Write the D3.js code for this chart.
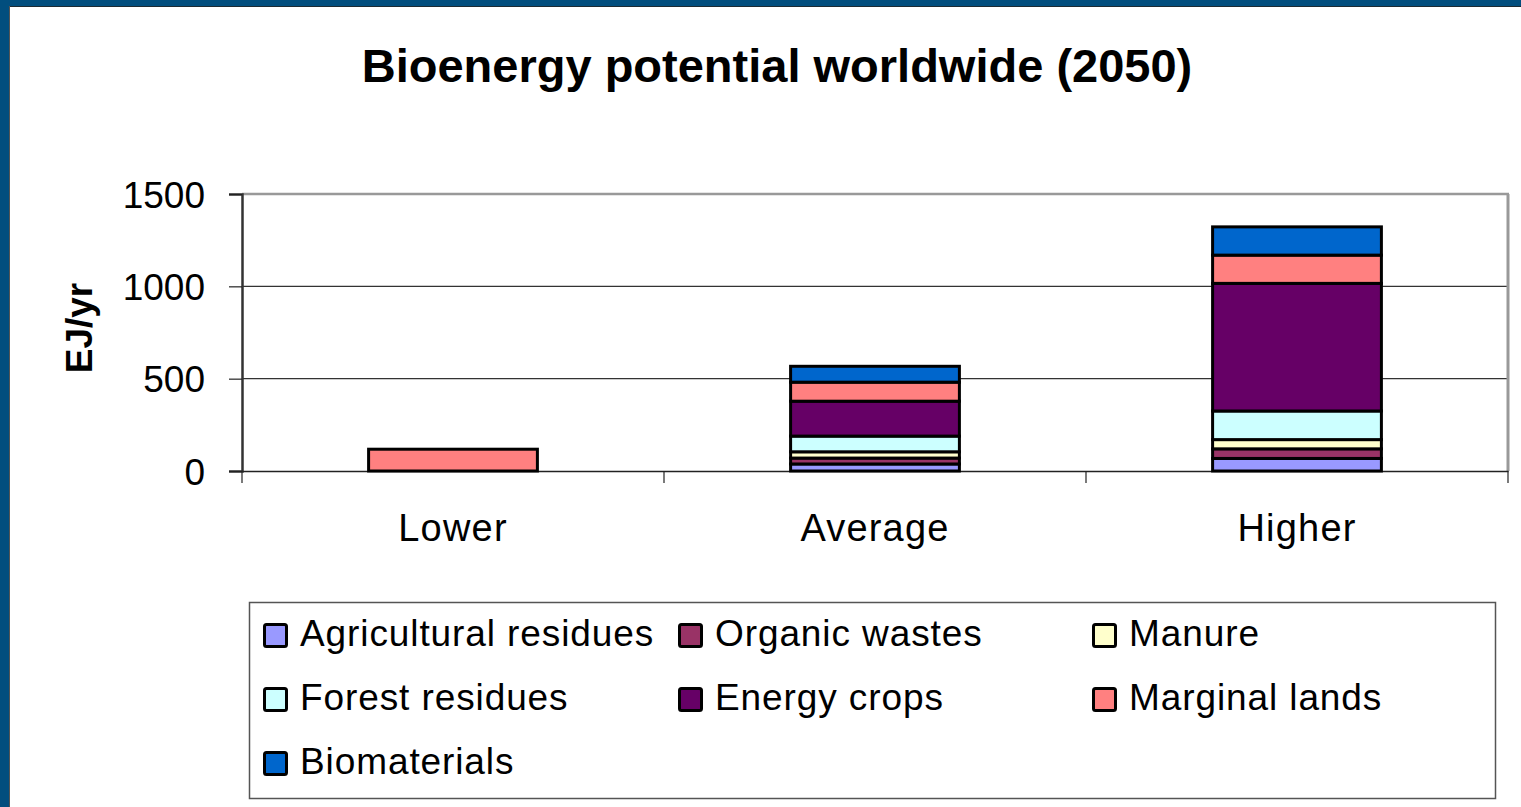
<!DOCTYPE html>
<html>
<head>
<meta charset="utf-8">
<script src="https://cdn.jsdelivr.net/npm/d3@7"></script>
<style>
  html, body { margin: 0; padding: 0; background: #fff; }
  svg { display: block; font-family: 'Liberation Sans', Arial, sans-serif; }
</style>
</head>
<body>
<svg id="grafico"></svg>
<script>
// dados
var categorias = ['Lower', 'Average', 'Higher'];
var series = ['Agricultural residues', 'Organic wastes', 'Manure', 'Forest residues',
              'Energy crops', 'Marginal lands', 'Biomaterials'];
var agricultural = [0, 38, 68];
var organicos    = [0, 32, 52];
var esterco      = [0, 34, 50];
var florestais   = [0, 85, 155];
var energeticas  = [0, 189, 691];
var marginais    = [118, 103, 153];
var biomateriais = [0, 86, 153];
var ticksY = [0, 500, 1000, 1500];
var cores = ['#9999FF', '#993366', '#FFFFCC', '#CCFFFF', '#660066', '#FF8080', '#0066CC'];

var valores = [agricultural, organicos, esterco, florestais, energeticas, marginais, biomateriais];
var dados = categorias.map(function (c, i) {
  var linha = { chave: c };
  series.forEach(function (s, j) { linha[s] = valores[j][i]; });
  return linha;
});

var largura = 1521, altura = 807;
var svg = d3.select('#grafico').attr('width', largura).attr('height', altura);

svg.append('rect').attr('width', largura).attr('height', altura).attr('fill', '#fff');
// moldura azul (topo e esquerda)
svg.append('rect').attr('x', 0).attr('y', 0).attr('width', largura).attr('height', 6).attr('fill', '#024E7E');
svg.append('rect').attr('x', 0).attr('y', 0).attr('width', 9).attr('height', altura).attr('fill', '#024E7E');
svg.append('line').attr('x1', 9).attr('x2', largura).attr('y1', 6.5).attr('y2', 6.5).attr('stroke', '#1d2b33').attr('stroke-width', 1);
svg.append('line').attr('x1', 9.5).attr('x2', 9.5).attr('y1', 6).attr('y2', altura).attr('stroke', '#555').attr('stroke-width', 1);

// titulo
svg.append('text')
   .attr('x', 777).attr('y', 82)
   .attr('text-anchor', 'middle')
   .style('font-size', '47px').style('font-weight', 'bold')
   .text('Bioenergy potential worldwide (2050)');

var esq = 242, dir = 1508, topo = 194, base = 471;

var x = d3.scaleBand().domain(categorias).range([esq, dir]).paddingInner(0.6).paddingOuter(0.3);
var y = d3.scaleLinear().domain([0, 1500]).range([base, topo]);

// grade
svg.append('g').selectAll('line')
   .data([500, 1000])
   .enter().append('line')
   .attr('x1', esq).attr('x2', dir)
   .attr('y1', d => y(d)).attr('y2', d => y(d))
   .attr('stroke', '#333').attr('stroke-width', 1.2);

// borda da area de plotagem
svg.append('line').attr('x1', esq).attr('x2', dir + 1).attr('y1', topo).attr('y2', topo)
   .attr('stroke', '#999').attr('stroke-width', 2.5);
svg.append('line').attr('x1', dir).attr('x2', dir).attr('y1', topo).attr('y2', base)
   .attr('stroke', '#999').attr('stroke-width', 3);

// eixo Y
var eixoY = d3.axisLeft(y).tickValues(ticksY).tickSize(13).tickPadding(24).tickFormat(d3.format('d'));
var gY = svg.append('g').attr('transform', 'translate(' + esq + ',0)').call(eixoY);
gY.select('.domain').attr('stroke', '#333').attr('stroke-width', 2.5);
gY.selectAll('.tick line').attr('stroke', '#222').attr('stroke-width', 1.2);
gY.selectAll('.tick text').style('font-size', '37px').attr('fill', '#000').attr('dy', '0.36em');

// eixo X
var eixoX = d3.axisBottom(x).tickSize(0).tickPadding(43);
var gX = svg.append('g').attr('transform', 'translate(0,' + base + ')').call(eixoX);
gX.select('.domain').attr('stroke', '#222').attr('stroke-width', 1.5);
gX.selectAll('.tick text').style('font-size', '38px').style('letter-spacing', '1.2px').attr('fill', '#000');
var step = x.step();
gX.selectAll('.divisor')
  .data(d3.range(categorias.length + 1))
  .enter().append('line')
  .attr('x1', i => esq + i * step).attr('x2', i => esq + i * step)
  .attr('y1', 0).attr('y2', 12)
  .attr('stroke', '#222').attr('stroke-width', 1.2);

// titulo do eixo Y
svg.append('text')
   .attr('transform', 'translate(92,328) rotate(-90)')
   .attr('text-anchor', 'middle')
   .style('font-size', '37px').style('font-weight', 'bold')
   .text('EJ/yr');

// barras empilhadas
var pilha = d3.stack().keys(series)(dados);
var camadas = svg.append('g').selectAll('g')
   .data(pilha)
   .enter().append('g')
   .attr('fill', (d, i) => cores[i]);
camadas.selectAll('rect')
   .data(d => d)
   .enter().append('rect')
   .attr('x', d => x(d.data.chave))
   .attr('y', d => y(d[1]))
   .attr('width', x.bandwidth())
   .attr('height', d => y(d[0]) - y(d[1]))
   .attr('stroke', '#000').attr('stroke-width', 3);

// legenda
svg.append('rect')
   .attr('x', 249.5).attr('y', 602.5).attr('width', 1246).attr('height', 196)
   .attr('fill', '#fff').attr('stroke', '#555').attr('stroke-width', 1.5);
var colunas = [263, 678, 1092];
var item = svg.append('g').selectAll('g')
   .data(series)
   .enter().append('g')
   .attr('transform', (d, i) => 'translate(' + colunas[i % 3] + ',' + (623 + Math.floor(i / 3) * 64) + ')');
item.append('rect')
   .attr('x', 1.5).attr('y', 1.5).attr('width', 22).attr('height', 22).attr('rx', 2)
   .attr('fill', (d, i) => cores[i]).attr('stroke', '#000').attr('stroke-width', 3);
item.append('text')
   .attr('x', 37).attr('y', 23)
   .style('font-size', '37px').style('letter-spacing', '0.9px')
   .text(d => d);
</script>
</body>
</html>
